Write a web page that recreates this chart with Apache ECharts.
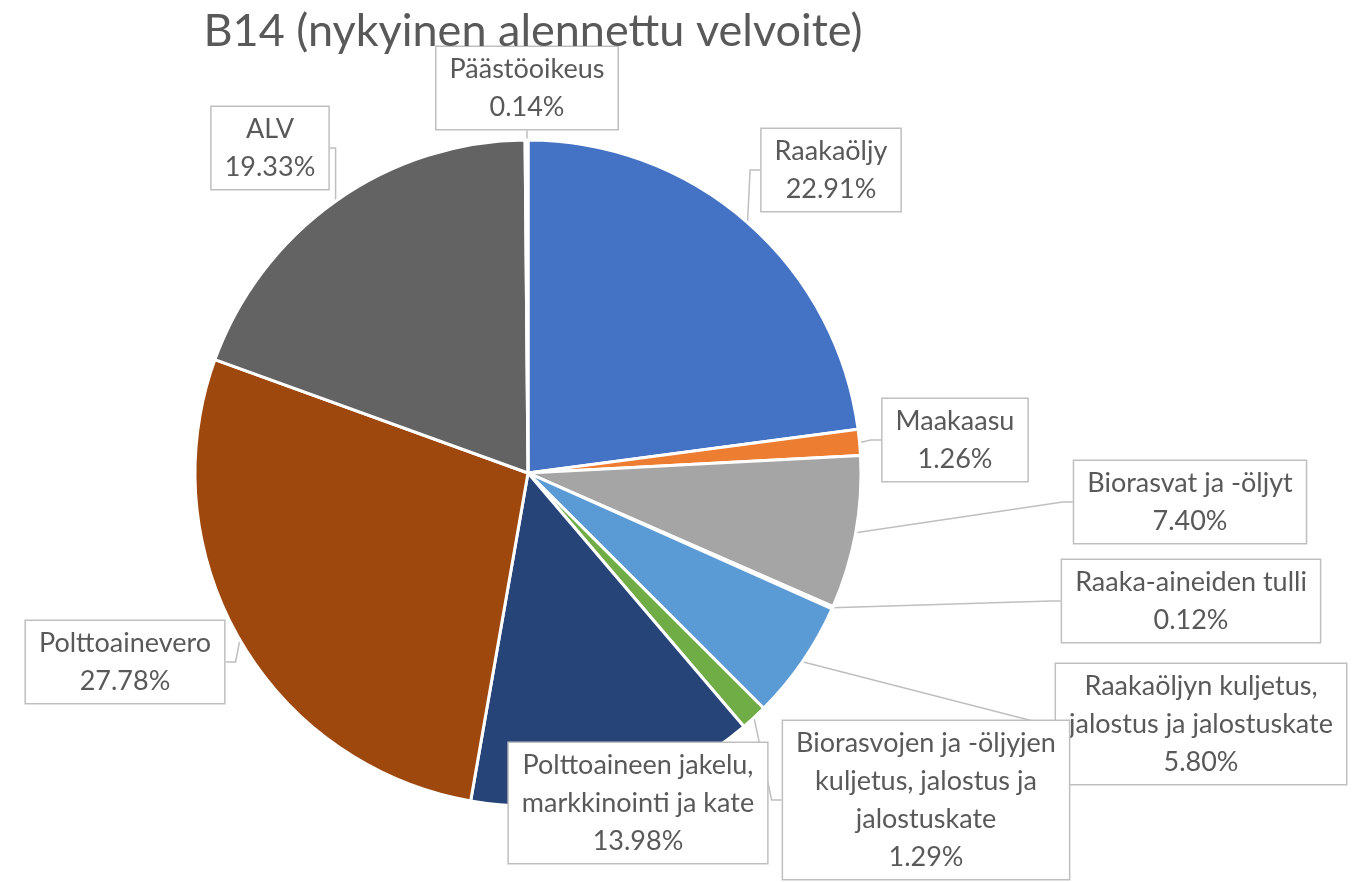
<!DOCTYPE html>
<html>
<head>
<meta charset="utf-8">
<script src="https://cdn.jsdelivr.net/npm/echarts@6/dist/echarts.min.js"></script>
<style>
  html, body { margin: 0; padding: 0; background: #fff; }
  #chart { width: 1359px; height: 882px; }
</style>
</head>
<body>
<div id="chart"></div>
<script>
// slice names, clockwise from 12 o'clock
const names = [
  'Raakaöljy',
  'Maakaasu',
  'Biorasvat ja -öljyt',
  'Raaka-aineiden tulli',
  'Raakaöljyn kuljetus, jalostus ja jalostuskate',
  'Biorasvojen ja -öljyjen kuljetus, jalostus ja jalostuskate',
  'Polttoaineen jakelu, markkinointi ja kate',
  'Polttoainevero',
  'ALV',
  'Päästöoikeus'
];
// share of price, %
const shares = [22.91, 1.26, 7.40, 0.12, 5.80, 1.29, 13.98, 27.78, 19.33, 0.14];
// how the callout text wraps
const labelLines = [
  ['Raakaöljy'],
  ['Maakaasu'],
  ['Biorasvat ja -öljyt'],
  ['Raaka-aineiden tulli'],
  ['Raakaöljyn kuljetus,', 'jalostus ja jalostuskate'],
  ['Biorasvojen ja -öljyjen', 'kuljetus, jalostus ja', 'jalostuskate'],
  ['Polttoaineen jakelu,', 'markkinointi ja kate'],
  ['Polttoainevero'],
  ['ALV'],
  ['Päästöoikeus']
];

const colors = ['#4472C4', '#ED7D31', '#A5A5A5', '#FFC000', '#5B9BD5',
                '#70AD47', '#264478', '#9E480E', '#636363', '#997300'];

// callout box centres (px), same order as the slices
const calloutPos = [
  [831, 170], [955, 440], [1190, 502], [1191, 601], [1201, 724],
  [926, 800], [638, 803], [125, 662], [270, 148], [527, 88]
];

const chart = echarts.init(document.getElementById('chart'));

chart.setOption({
  animation: false,
  color: colors,
  title: {
    text: 'B14 (nykyinen alennettu velvoite)',
    left: 528,
    top: 4,
    textAlign: 'center',
    textStyle: { fontFamily: 'Lato', fontSize: 45, fontWeight: 'normal', color: '#595959' }
  },
  series: [{
    type: 'pie',
    center: [528, 473],
    radius: 333,
    startAngle: 90,
    clockwise: true,
    avoidLabelOverlap: false,
    itemStyle: { borderColor: '#fff', borderWidth: 3 },
    data: names.map((n, i) => ({ name: n, value: shares[i] })),
    label: {
      show: true,
      position: 'outside',
      formatter: p => labelLines[p.dataIndex].join('\n') + '\n' + p.value.toFixed(2) + '%',
      fontFamily: 'Lato',
      fontSize: 27,
      lineHeight: 38,
      color: '#595959',
      align: 'center',
      backgroundColor: '#fff',
      borderColor: '#bfbfbf',
      borderWidth: 1.5,
      padding: [3, 13]
    },
    labelLine: {
      show: true,
      length: 10,
      length2: 10,
      lineStyle: { color: '#bfbfbf', width: 1.5 }
    },
    labelLayout: p => ({
      x: calloutPos[p.dataIndex][0],
      y: calloutPos[p.dataIndex][1],
      align: 'center',
      verticalAlign: 'middle'
    })
  }]
});
</script>
</body>
</html>
